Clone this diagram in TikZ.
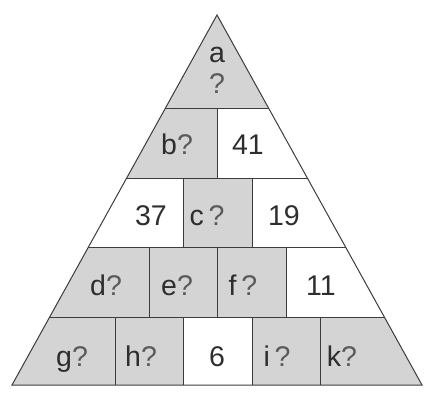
\documentclass[tikz,border=0pt]{standalone}
\usepackage{fontspec}
\setmainfont{Liberation Sans}
\definecolor{cellgray}{HTML}{D4D4D4}
\definecolor{linegray}{HTML}{3C3C3C}
\definecolor{textgray}{HTML}{2E2E2E}
\definecolor{qgray}{HTML}{5A5A5A}
\newcommand{\qm}{{\color{qgray}?}}
\tikzset{
  cellfill/.style={fill=cellgray},
  gridline/.style={draw=linegray, line width=0.8pt},
  outline/.style={draw=linegray, line width=1pt, line join=miter},
  celltext/.style={
    anchor=base,
    inner sep=0pt,
    text=textgray,
    font=\fontsize{28.5}{31}\selectfont
  }
}

\begin{document}
\begin{tikzpicture}[x=1pt, y=-1pt]
  \useasboundingbox (0,0) rectangle (429,392);
  \coordinate (apex) at (217,15);
  \coordinate (baseL) at (12,385);
  \coordinate (baseR) at (422,385);

  % gray cells, clipped to the pyramid
  \begin{scope}
    \clip (apex) -- (baseL) -- (baseR) -- cycle;
    \fill[cellfill] (0,0) rectangle (429,108);
    \fill[cellfill] (0,108) rectangle (217,178);
    \fill[cellfill] (183,178) rectangle (252,247);
    \fill[cellfill] (0,247) rectangle (286,317);
    \fill[cellfill] (0,317) rectangle (183,385);
    \fill[cellfill] (252,317) rectangle (429,385);
    % rows
    \draw[gridline] (0,108) -- (429,108);
    \draw[gridline] (0,178) -- (429,178);
    \draw[gridline] (0,247) -- (429,247);
    \draw[gridline] (0,317) -- (429,317);
    % columns
    \draw[gridline] (217,108) -- (217,178);
    \draw[gridline] (183,178) -- (183,247);
    \draw[gridline] (252,178) -- (252,247);
    \draw[gridline] (149,247) -- (149,317);
    \draw[gridline] (217,247) -- (217,317);
    \draw[gridline] (286,247) -- (286,317);
    \draw[gridline] (115,317) -- (115,385);
    \draw[gridline] (183,317) -- (183,385);
    \draw[gridline] (252,317) -- (252,385);
    \draw[gridline] (320,317) -- (320,385);
  \end{scope}
  \draw[outline] (apex) -- (baseL) -- (baseR) -- cycle;

  % texts
  \node[celltext] (a) at (217,62) {a};
  \node[celltext] (aq) at (217,93) {\qm};
  \node[celltext] (b) at (177,154) {b\qm};
  \node[celltext] (n41) at (248,154) {41};
  \node[celltext] (n37) at (151,225) {37};
  \node[celltext] (c) at (207,225) {c\,\qm};
  \node[celltext] (n19) at (284,225) {19};
  \node[celltext] (d) at (106,295) {d\qm};
  \node[celltext] (e) at (177,295) {e\qm};
  \node[celltext] (f) at (243,295) {f\,\qm};
  \node[celltext] (n11) at (321,295) {11};
  \node[celltext] (g) at (72,366) {g\qm};
  \node[celltext] (h) at (141,366) {h\qm};
  \node[celltext] (n6) at (217,366) {6};
  \node[celltext] (i) at (277,366) {i\,\qm};
  \node[celltext] (k) at (342,366) {k\qm};
\end{tikzpicture}
\end{document}
